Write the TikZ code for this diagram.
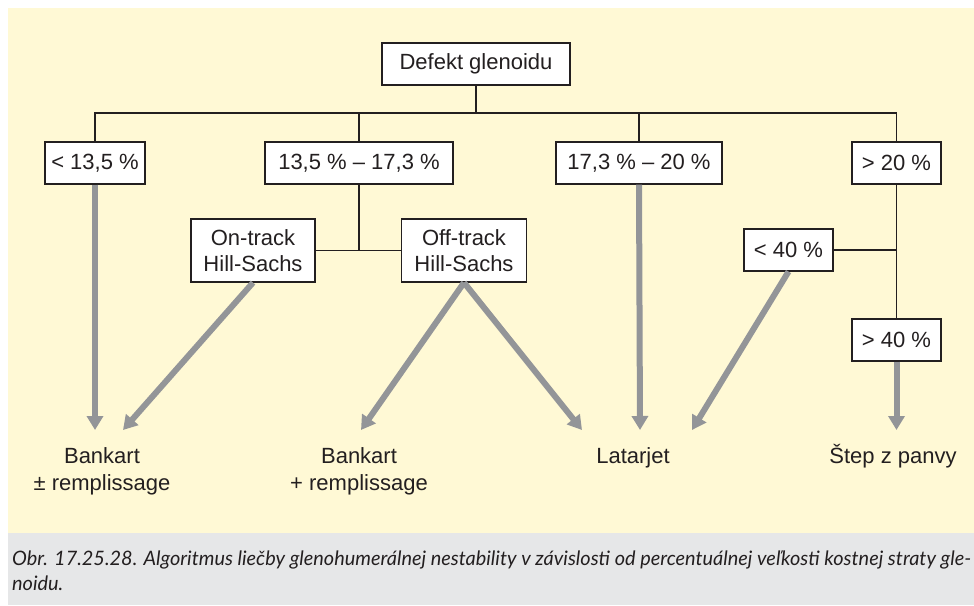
\documentclass[tikz,border=0pt]{standalone}
\usepackage{fontspec}
\setmainfont{Liberation Sans}
\newfontfamily\capfont{Lato}
\usetikzlibrary{arrows.meta}
\definecolor{panel}{HTML}{FFF9D5}
\definecolor{capgrey}{HTML}{E6E7E8}
\definecolor{arrowgrey}{HTML}{939598}
\definecolor{ink}{HTML}{231F20}
\tikzset{
  box/.style={draw=ink, line width=1.2pt, fill=white, text=ink, inner sep=0pt,
    minimum height=42pt, align=center, font=\fontsize{22}{26}\selectfont},
  tallbox/.style={box, minimum height=63pt},
  result/.style={text=ink, inner sep=0pt, align=center, font=\fontsize{22}{27}\selectfont},
  link/.style={draw=ink, line width=1.1pt},
  flow/.style={draw=arrowgrey, line width=6pt, -{Triangle[length=14pt,width=16pt]}},
  captext/.style={anchor=base west, inner sep=0pt, text=ink, font=\capfont\itshape\fontsize{19.9}{25}\selectfont}
}
\begin{document}
\begin{tikzpicture}[x=1pt,y=-1pt]
  \useasboundingbox (0,0) rectangle (974,605);
  \fill[white] (0,0) rectangle (974,605);
  \fill[panel] (8,8) rectangle (974,533);
  \fill[capgrey] (8,533) rectangle (974,605);

  % boxes
  \node[box, minimum width=188pt] (def) at (476,64) {Defekt glenoidu};
  \node[box, minimum width=100pt] (b1) at (95,163) {< 13,5 \%};
  \node[box, minimum width=188pt] (b2) at (359,163) {13,5 \% -- 17,3 \%};
  \node[box, minimum width=166pt] (b3) at (639,163) {17,3 \% -- 20 \%};
  \node[box, minimum width=89pt] (b4) at (896.5,163) {> 20 \%};
  \node[tallbox, minimum width=124pt] (on) at (253,250.5) {On-track\\Hill-Sachs};
  \node[tallbox, minimum width=125pt] (off) at (464,250.5) {Off-track\\Hill-Sachs};
  \node[box, minimum width=89pt] (lt40) at (788.5,250) {< 40 \%};
  \node[box, minimum width=89pt] (gt40) at (896.5,340) {> 40 \%};

  % outcomes
  \node[result, anchor=base] (r1) at (102,490) {Bankart\\± remplissage};
  \node[result, anchor=base] (r2) at (359,490) {Bankart\\+ remplissage};
  \node[result, anchor=base] (r3) at (633,463) {Latarjet};
  \node[result, anchor=base] (r4) at (893,463) {Štep z panvy};

  % arrow tips
  \coordinate (t1) at (95,430);
  \coordinate (t1b) at (123,430);
  \coordinate (t2) at (361,430);
  \coordinate (t3a) at (582,430);
  \coordinate (t3) at (640,430);
  \coordinate (t3b) at (692,430);
  \coordinate (t4) at (896.5,430);
  \coordinate (bus) at (0,113);

  % tree lines
  \draw[link] (def.south) -- (def.south |- bus);
  \draw[link] (b1.north) -- (b1.north |- bus) -- (b4.north |- bus) -- (b4.north);
  \draw[link] (b2.north) -- (b2.north |- bus);
  \draw[link] (b3.north) -- (b3.north |- bus);
  \draw[link] (b2.south) -- (b2.south |- on.east);
  \draw[link] (on.east) -- (off.west);
  \draw[link] (b4.south) -- (gt40.north);
  \draw[link] (lt40.east) -- (lt40.east -| b4.south);

  % treatment arrows
  \draw[flow] (b1.south) -- (t1);
  \draw[flow] (on.south) -- (t1b);
  \draw[flow] (off.south) -- (t2);
  \draw[flow] (off.south) -- (t3a);
  \draw[flow] (b3.south) -- (t3);
  \draw[flow] (lt40.south) -- (t3b);
  \draw[flow] (gt40.south) -- (t4);

  % caption
  \node[captext] (cap1) at (12,565)
    {Obr. 17.25.28. Algoritmus liečby glenohumerálnej nestability v závislosti od percentuálnej veľkosti kostnej straty gle-};
  \node[captext] (cap2) at (12,590) {noidu.};
\end{tikzpicture}
\end{document}
